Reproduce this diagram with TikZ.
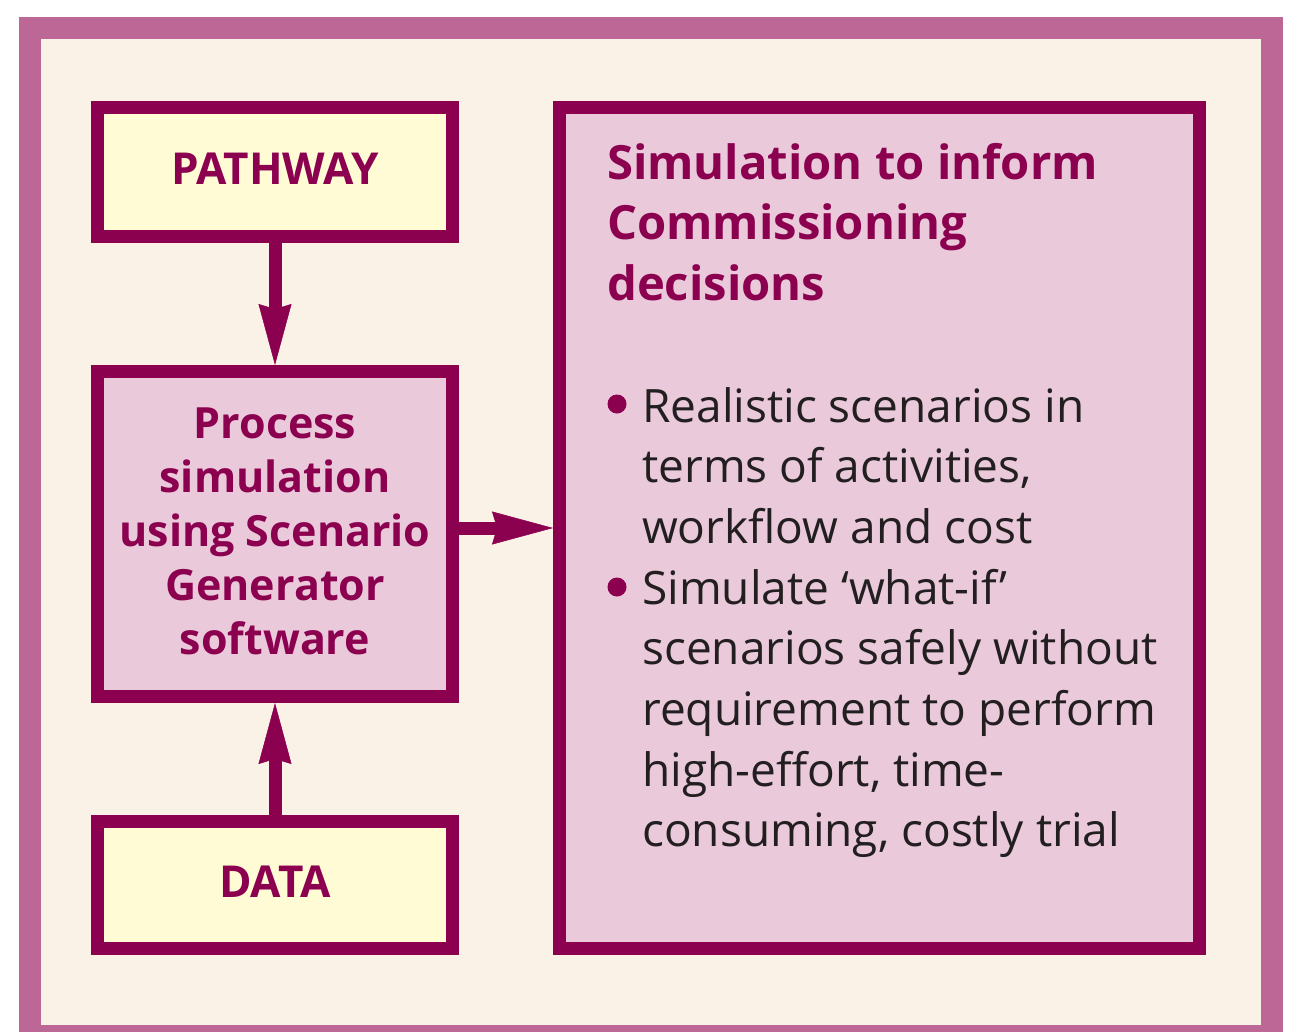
\documentclass[tikz,border=0pt]{standalone}
\usepackage{fontspec}
\setmainfont{Open Sans}
\usetikzlibrary{arrows.meta}

\definecolor{framecol}{RGB}{188,103,150}
\definecolor{cream}{RGB}{250,241,231}
\definecolor{dm}{RGB}{140,0,80}
\definecolor{pinkfill}{RGB}{233,201,218}
\definecolor{yellowfill}{RGB}{255,251,212}
\definecolor{bodytext}{RGB}{35,31,32}

\begin{document}
\begin{tikzpicture}[x=1pt,y=-1pt,
  box/.style={draw=dm, line width=13pt, inner sep=0pt, text=dm, align=center},
  capsbox/.style={box, fill=yellowfill, minimum width=355pt, text depth=7pt,
    font=\fontsize{44}{49}\selectfont\bfseries},
  link/.style={draw=dm, line width=13pt, shorten >=0pt,
    -{Stealth[length=61pt,width=33pt,inset=5pt,line width=0.5pt]}}]

  % page and outer frame
  \useasboundingbox (0,0) rectangle (1290,1031);
  \clip (0,0) rectangle (1290,1031);
  \fill[white] (0,0) rectangle (1290,1031);
  \draw[draw=framecol, line width=22pt, fill=cream] (30,27.5) rectangle (1271.5,1036);

  % left column
  \node[capsbox, minimum height=129pt] (pathway) at (275,172) {PATHWAY};
  \node[box, fill=pinkfill, minimum width=355pt, minimum height=325pt, text depth=6pt,
        font=\fontsize{43}{54}\selectfont\bfseries] (sim) at (275,534)
        {Process\\simulation\\using Scenario\\Generator\\software};
  \node[capsbox, minimum height=127pt] (data) at (275,885) {DATA};

  % right panel
  \node[box, fill=pinkfill, minimum width=640pt, minimum height=841pt] (decide) at (879.5,528) {};
  \node[anchor=base west, inner sep=0pt, text=dm,
        font=\fontsize{47.2}{60.5}\selectfont\bfseries] (head) at (607,179)
        {\parbox[t]{570pt}{Simulation to inform\\Commissioning\\decisions}};
  \node[anchor=base west, inner sep=0pt, text=bodytext,
        font=\fontsize{46}{60.7}\selectfont] (points) at (642,422)
        {\parbox[t]{560pt}{Realistic scenarios in\\terms of activities,\\workflow and cost\\
          Simulate ‘what-if’\\scenarios safely without\\requirement to perform\\
          high-effort, time-\\consuming, costly trial}};
  \fill[dm] (617,404) circle (9.5pt);
  \fill[dm] (617,587) circle (9.5pt);

  % connectors
  \draw[link] (pathway.south) -- (sim.north);
  \draw[link] (data.north) -- (sim.south);
  \draw[link] (sim.east |- decide.west) -- (decide.west);
\end{tikzpicture}
\end{document}
